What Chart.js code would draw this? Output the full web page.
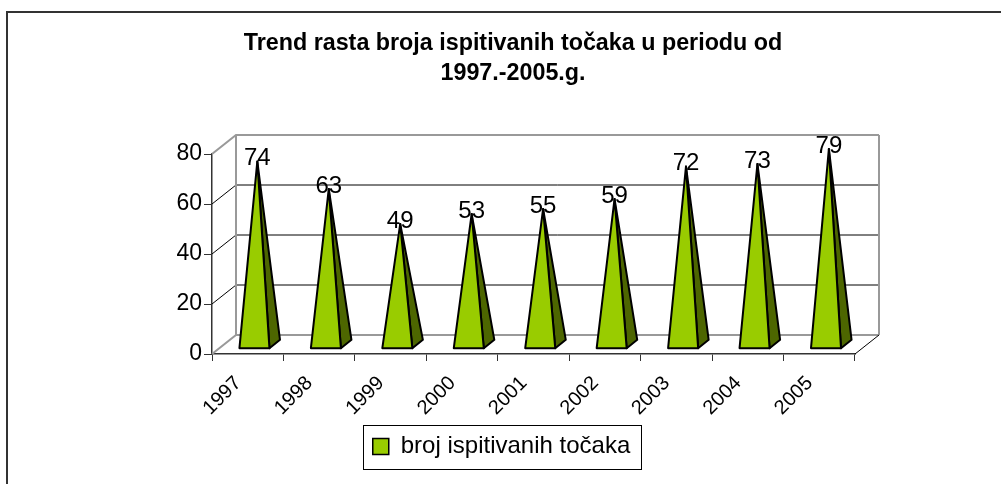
<!DOCTYPE html>
<html>
<head>
<meta charset="utf-8">
<script src="https://cdn.jsdelivr.net/npm/chart.js@4.4.1/dist/chart.umd.min.js"></script>
<style>
  html, body { margin: 0; padding: 0; background: #fff; }
</style>
</head>
<body>
<canvas id="chart" width="1001" height="484"></canvas>
<script>
const years = ["1997", "1998", "1999", "2000", "2001", "2002", "2003", "2004", "2005"];
const pointCounts = [74, 63, 49, 53, 55, 59, 72, 73, 79];
const yTickValues = [0, 20, 40, 60, 80];
const titleLines = ["Trend rasta broja ispitivanih točaka u periodu od", "1997.-2005.g."];
const seriesLabel = "broj ispitivanih točaka";

const FONT = "'Liberation Sans', Arial, sans-serif";
const DEPTH_X = 24;
const DEPTH_Y = -19;
const FRONT_GREEN = "#99cc00";
const SIDE_GREEN = "#4d6600";

function strokePath(ctx, pts, color, width) {
  ctx.strokeStyle = color;
  ctx.lineWidth = width;
  ctx.beginPath();
  pts.forEach(([px, py], i) => (i ? ctx.lineTo(px, py) : ctx.moveTo(px, py)));
  ctx.stroke();
}

function fillPoly(ctx, pts, fill) {
  ctx.beginPath();
  pts.forEach(([px, py], i) => (i ? ctx.lineTo(px, py) : ctx.moveTo(px, py)));
  ctx.closePath();
  ctx.fillStyle = fill;
  ctx.fill();
  ctx.stroke();
}

/** Excel-style 3D box walls, pyramids instead of bars, and a framed legend. */
const pyramidPlugin = {
  id: "pyramid3d",
  beforeDraw(chart) {
    const { ctx, width, height } = chart;
    ctx.save();
    ctx.fillStyle = "#fff";
    ctx.fillRect(0, 0, width, height);
    strokePath(ctx, [[7, height], [7, 12], [width, 12]], "#333", 2);
    ctx.restore();
  },
  afterLayout(chart) {
    // legend in the original sits a bit left of the title centre
    chart.legend.left -= 11.5;
    chart.legend.right -= 11.5;
  },
  beforeDatasetsDraw(chart) {
    const { ctx, chartArea: a, scales: { y } } = chart;
    ctx.save();
    const last = yTickValues.length - 1;
    yTickValues.forEach((v, i) => {
      const py = y.getPixelForValue(v);
      const edge = i === 0 || i === last;
      strokePath(ctx, [[a.left, py], [a.left + DEPTH_X, py + DEPTH_Y], [a.right + DEPTH_X, py + DEPTH_Y]],
        edge ? "#999" : "#000", edge ? 2 : 1);
    });
    const top = y.getPixelForValue(yTickValues[last]) + DEPTH_Y;
    const bottom = y.getPixelForValue(yTickValues[0]) + DEPTH_Y;
    strokePath(ctx, [[a.left + DEPTH_X, bottom], [a.left + DEPTH_X, top]], "#999", 2);
    strokePath(ctx, [[a.right + DEPTH_X, bottom], [a.right + DEPTH_X, top]], "#999", 2);
    strokePath(ctx, [[a.right, a.bottom], [a.right + DEPTH_X, a.bottom + DEPTH_Y]], "#000", 1);
    ctx.restore();
  },
  beforeDatasetDraw() {
    return false;
  },
  afterDatasetsDraw(chart) {
    const { ctx } = chart;
    const meta = chart.getDatasetMeta(0);
    const values = chart.data.datasets[0].data;
    const t1 = 0.28, t2 = 0.72, tm = 0.4;
    const apexes = [];
    ctx.save();
    ctx.strokeStyle = "#000";
    ctx.lineWidth = 2;
    ctx.lineJoin = "round";
    meta.data.forEach((bar) => {
      const { x, y, base, width } = bar.getProps(["x", "y", "base", "width"], true);
      const fl = [x - width / 2 + DEPTH_X * t1, base + DEPTH_Y * t1];
      const fr = [x + width / 2 + DEPTH_X * t1, base + DEPTH_Y * t1];
      const br = [x + width / 2 + DEPTH_X * t2, base + DEPTH_Y * t2];
      const ap = [x + DEPTH_X * tm, y + DEPTH_Y * tm];
      fillPoly(ctx, [fr, br, ap], SIDE_GREEN);
      fillPoly(ctx, [fl, fr, ap], FRONT_GREEN);
      apexes.push(ap);
    });
    ctx.fillStyle = "#000";
    ctx.font = `24px ${FONT}`;
    ctx.textAlign = "center";
    ctx.textBaseline = "alphabetic";
    apexes.forEach(([ax, ay], i) => ctx.fillText(String(values[i]), ax, ay + 4));
    ctx.restore();
  },
  afterDraw(chart) {
    const hb = chart.legend.legendHitBoxes[0];
    if (!hb) return;
    const { ctx } = chart;
    ctx.save();
    ctx.strokeStyle = "#000";
    ctx.lineWidth = 1;
    ctx.strokeRect(Math.round(hb.left - 10) + 0.5, Math.round(hb.top - 10) + 0.5,
      Math.round(hb.width + 21), Math.round(hb.height + 20));
    ctx.restore();
  },
};

Chart.defaults.font.family = FONT;

new Chart(document.getElementById("chart"), {
  type: "bar",
  data: {
    labels: years,
    datasets: [{
      label: seriesLabel,
      data: pointCounts,
      backgroundColor: FRONT_GREEN,
      borderColor: "#000",
      borderWidth: 1.5,
      categoryPercentage: 0.6,
      barPercentage: 0.7,
    }],
  },
  options: {
    responsive: false,
    animation: false,
    events: [],
    layout: { padding: { left: 171, right: 146, top: 0, bottom: 15.5 } },
    plugins: {
      title: {
        display: true,
        text: titleLines,
        color: "#000",
        font: { size: 23.3, weight: "bold", lineHeight: "30px" },
        padding: { top: 28.5, bottom: 65.5 },
      },
      legend: {
        position: "bottom",
        labels: {
          color: "#000",
          font: { size: 24 },
          boxWidth: 16,
          boxHeight: 16,
          padding: 10,
        },
      },
      tooltip: { enabled: false },
    },
    scales: {
      x: {
        offset: true,
        grid: { drawOnChartArea: false, offset: true, tickLength: 7, color: "#333" },
        border: { color: "#333", width: 1.5 },
        ticks: {
          color: "#000",
          font: { size: 20 },
          minRotation: 45,
          maxRotation: 45,
          autoSkip: false,
          labelOffset: -9.6,
          padding: 10.6,
        },
        afterFit: (scale) => { scale.height = 70.5; },
      },
      y: {
        min: 0,
        max: 80,
        afterBuildTicks: (scale) => { scale.ticks = yTickValues.map((value) => ({ value })); },
        grid: { drawOnChartArea: false, tickLength: 8, color: "#333" },
        border: { color: "#333", width: 1.5 },
        ticks: { color: "#000", font: { size: 23 }, padding: 2 },
        afterFit: (scale) => { scale.width = 41; },
      },
    },
  },
  plugins: [pyramidPlugin],
});
</script>
</body>
</html>
